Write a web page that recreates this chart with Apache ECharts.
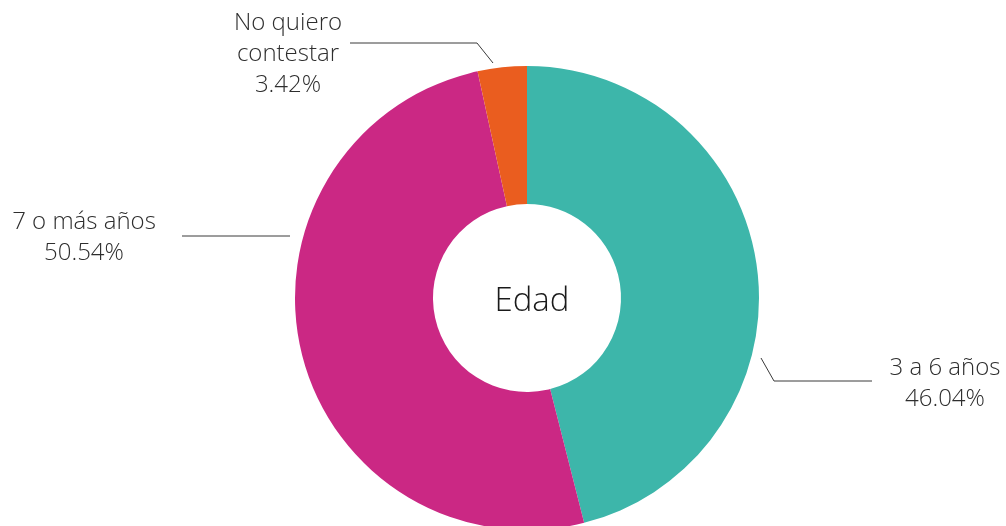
<!DOCTYPE html>
<html>
<head>
<meta charset="utf-8">
<script src="https://cdn.jsdelivr.net/npm/echarts@6/dist/echarts.min.js"></script>
<style>
  html, body { margin: 0; padding: 0; background: #ffffff; }
  #chart { width: 1006px; height: 526px; }
</style>
</head>
<body>
<div id="chart"></div>
<script>
// ---- data ----
const categories = ['3 a 6 años', '7 o más años', 'No quiero\ncontestar'];
const values = [46.04, 50.54, 3.42];
const colors = ['#3db6aa', '#cb2884', '#ea5d1f'];
const centerTitle = 'Edad';

// ---- layout (pixels) ----
const CX = 527, CY = 298, R_OUT = 232, R_IN = 94;
// label block centers and leader-line points, per slice
const LABEL_LAYOUT = [
  { x: 945, y: 384, line: [[761, 358], [774, 381], [872, 381]] },
  { x: 84,  y: 238, line: [[290, 236], [290, 236], [182, 236]] },
  { x: 288, y: 54,  line: [[493, 63], [477, 43], [350, 43]] }
];

const chart = echarts.init(document.getElementById('chart'), null, { renderer: 'canvas' });

const option = {
  animation: false,
  backgroundColor: '#ffffff',
  title: {
    text: centerTitle,
    left: CX,
    top: CY - 1,
    textAlign: 'center',
    textVerticalAlign: 'middle',
    textStyle: {
      fontFamily: 'Open Sans',
      fontWeight: 300,
      fontSize: 33,
      color: '#1a1a1a'
    }
  },
  series: [{
    type: 'pie',
    center: [CX, CY],
    radius: [R_IN, R_OUT],
    startAngle: 90,
    clockwise: true,
    avoidLabelOverlap: false,
    emphasis: { disabled: true },
    data: categories.map((name, i) => ({
      name: name,
      value: values[i],
      itemStyle: { color: colors[i] }
    })),
    label: {
      show: true,
      position: 'outside',
      formatter: (p) => p.name + '\n' + p.value.toFixed(2) + '%',
      fontFamily: 'Open Sans',
      fontWeight: 300,
      fontSize: 24,
      lineHeight: 31,
      color: '#2e2e2e',
      align: 'center'
    },
    labelLine: {
      show: true,
      length: 20,
      length2: 80,
      lineStyle: { color: '#3a3a3a', width: 1 }
    },
    labelLayout: function (params) {
      const L = LABEL_LAYOUT[params.dataIndex];
      return {
        x: L.x,
        y: L.y,
        align: 'center',
        verticalAlign: 'middle',
        labelLinePoints: L.line
      };
    }
  }]
};

chart.setOption(option);
</script>
</body>
</html>
